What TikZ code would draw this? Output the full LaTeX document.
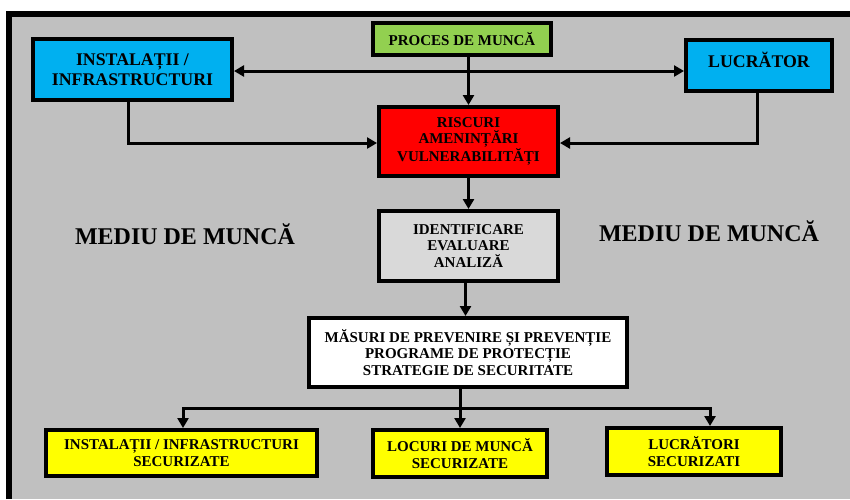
\documentclass[tikz,border=0pt]{standalone}
\usepackage{fontspec}
\setmainfont{Liberation Serif}
\usetikzlibrary{arrows.meta,calc}
\definecolor{bggray}{RGB}{192,192,192}
\definecolor{cblue}{RGB}{0,176,240}
\definecolor{cgreen}{RGB}{146,208,80}
\definecolor{cred}{RGB}{255,0,0}
\definecolor{clgray}{RGB}{217,217,217}
\definecolor{cyellow}{RGB}{255,255,0}
\tikzset{
  boxbase/.style={draw=black, line width=4pt, inner sep=0pt, align=center, text=black},
  smalltxt/.style={font=\bfseries\fontsize{15}{16.7}\selectfont},
  bigtxt/.style={font=\bfseries\fontsize{17.8}{20}\selectfont},
  arr/.style={line width=3pt, -{Triangle[length=10pt,width=11pt]}},
  arrboth/.style={line width=3pt, {Triangle[length=10pt,width=11pt]}-{Triangle[length=10pt,width=11pt]}},
  envtxt/.style={font=\bfseries\fontsize{24}{28}\selectfont, text=black, inner sep=0pt}
}
\begin{document}
\begin{tikzpicture}[x=1pt,y=-1pt]
\useasboundingbox (0,0) rectangle (850,499);
% background and frame
\fill[white] (0,0) rectangle (850,499);
\fill[bggray] (12,17) rectangle (850,499);
\draw[line width=6pt, line cap=butt, line join=miter] (9,499) -- (9,14) -- (850,14);
% nodes
\node[boxbase, smalltxt, fill=cgreen, minimum width=178pt, minimum height=32pt] (proc) at (462,39) {PROCES DE MUNCĂ};
\node[boxbase, bigtxt, fill=cblue, minimum width=199pt, minimum height=61pt] (inst) at (132.5,69.5) {INSTALAȚII /\\INFRASTRUCTURI};
\node[boxbase, bigtxt, fill=cblue, minimum width=146pt, minimum height=51pt, text depth=12pt] (lucr) at (759,65.5) {LUCRĂTOR};
\node[boxbase, smalltxt, fill=cred, minimum width=179pt, minimum height=69pt] (risc) at (468.5,141.5) {RISCURI\\AMENINȚĂRI\\VULNERABILITĂȚI};
\node[boxbase, smalltxt, fill=clgray, minimum width=179pt, minimum height=70pt] (iden) at (468.5,246) {IDENTIFICARE\\EVALUARE\\ANALIZĂ};
\node[boxbase, smalltxt, fill=white, minimum width=318pt, minimum height=69pt] (masu) at (468,352.5) {MĂSURI DE PREVENIRE ȘI PREVENȚIE\\PROGRAME DE PROTECȚIE\\STRATEGIE DE SECURITATE};
\node[boxbase, smalltxt, fill=cyellow, minimum width=271pt, minimum height=46pt] (bone) at (181.5,453) {INSTALAȚII / INFRASTRUCTURI\\SECURIZATE};
\node[boxbase, smalltxt, fill=cyellow, minimum width=174pt, minimum height=47pt] (btwo) at (460,453.5) {LOCURI DE MUNCĂ\\SECURIZATE};
\node[boxbase, smalltxt, fill=cyellow, minimum width=174pt, minimum height=47pt] (bthr) at (694,451.5) {LUCRĂTORI\\SECURIZATI};
% environment labels
\node[envtxt] (envl) at (185,234) {MEDIU DE MUNCĂ};
\node[envtxt] (envr) at (709,231) {MEDIU DE MUNCĂ};
% connectors
\draw[arrboth] ([yshift=-1.5pt]inst.east) -- ([yshift=-1.5pt]inst.east -| lucr.west);
\draw[arr] (proc.south -| risc.north) -- (risc.north);
\draw[arr] ([xshift=-4.5pt]inst.south) |- ([yshift=-1.5pt]risc.west);
\draw[arr] ([xshift=-2pt]lucr.south) |- ([yshift=-1.5pt]risc.east);
\draw[arr] (risc.south) -- (risc.south |- iden.north);
\draw[arr] ([xshift=-3pt]iden.south) -- ([xshift=-3pt]iden.south |- masu.north);
\path (btwo.north) ++(0,-20) coordinate (split);
\draw[arr] (btwo.north |- masu.south) -- (btwo.north);
\draw[arr] (split) -| ([xshift=1.5pt]bone.north);
\draw[arr] (split) -| ([xshift=16pt]bthr.north);
\end{tikzpicture}
\end{document}
